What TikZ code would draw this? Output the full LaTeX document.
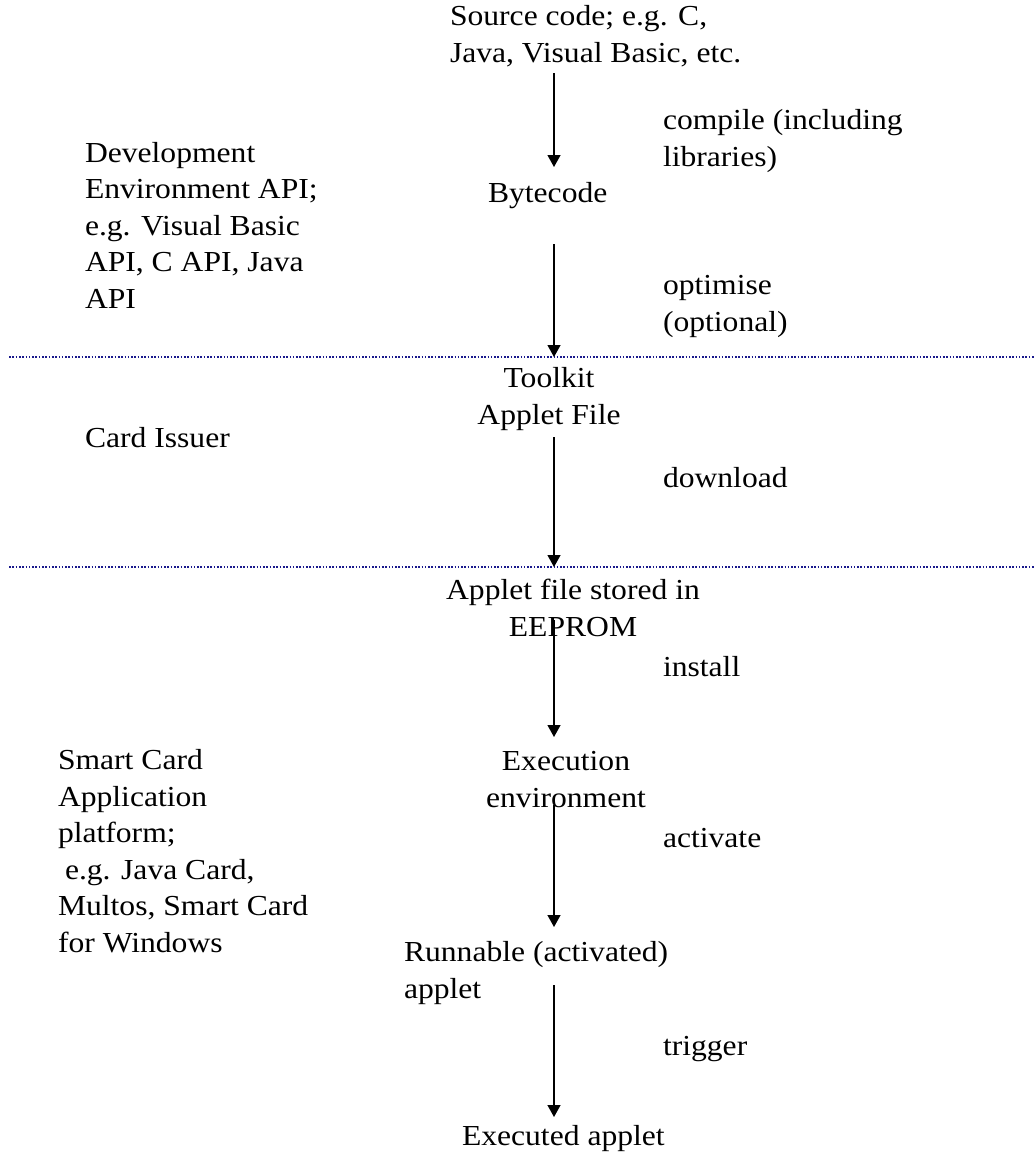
\documentclass[tikz,border=0pt]{standalone}
\usepackage{fontspec}
\setmainfont{Liberation Serif}[FakeStretch=1.09]
\usetikzlibrary{arrows.meta}
\definecolor{sepblue}{RGB}{25,25,140}
\begin{document}
\begin{tikzpicture}[x=1pt,y=-1pt,
  txt/.style={inner sep=0pt, outer sep=0pt, font=\fontsize{29}{36.5}\selectfont, align=left, anchor=base west},
  ctxt/.style={txt, align=center, anchor=base},
  flow/.style={line width=1.3pt, -{Triangle[width=13pt,length=12pt]}},
  sepline/.style={line width=1.3pt, draw=sepblue, dash pattern=on 1.6pt off 1.7pt}]
\useasboundingbox (0,0) rectangle (1035,1162);
% texts (multi-line nodes are placed by the baseline of their last line)
\node[txt] (src) at (450,62) {Source code; e.g. C,\\Java, Visual Basic, etc.};
\node[txt] (compile) at (663,166) {compile (including\\libraries)};
\node[txt] (byte) at (488,202) {Bytecode};
\node[txt] (devenv) at (85,308) {Development\\Environment API;\\e.g. Visual Basic\\API, C API, Java\\API};
\node[txt] (optimise) at (663,331) {optimise\\(optional)};
\node[ctxt] (toolkit) at (549,424) {Toolkit\\Applet File};
\node[txt] (issuer) at (85,447) {Card Issuer};
\node[txt] (download) at (663,487) {download};
\node[ctxt] (eeprom) at (573,636) {Applet file stored in\\EEPROM};
\node[txt] (install) at (663,676) {install};
\node[txt] (platform) at (58,952) {Smart Card\\Application\\platform;\\\hspace*{7pt}e.g. Java Card,\\Multos, Smart Card\\for Windows};
\node[ctxt] (exec) at (566,807) {Execution\\environment};
\node[txt] (activate) at (663,847) {activate};
\node[txt] (runnable) at (404,998) {Runnable (activated)\\applet};
\node[txt] (trigger) at (663,1055) {trigger};
\node[txt] (executed) at (462,1145) {Executed applet};
% separators
\coordinate (d1l) at (9,357);  \coordinate (d1r) at (1035,357);
\coordinate (d2l) at (9,567);  \coordinate (d2r) at (1035,567);
\draw[sepline] (d1l) -- (d1r);
\draw[sepline] (d2l) -- (d2r);
% arrows
\coordinate (a1s) at (554,73);  \coordinate (a1e) at (554,167);
\coordinate (a2s) at (554,244); \coordinate (a2e) at (554,357);
\coordinate (a3s) at (554,437); \coordinate (a3e) at (554,567);
\coordinate (a4s) at (554,620); \coordinate (a4e) at (554,737);
\coordinate (a5s) at (554,805); \coordinate (a5e) at (554,927);
\coordinate (a6s) at (554,985); \coordinate (a6e) at (554,1117);
\draw[flow] (a1s) -- (a1e);
\draw[flow] (a2s) -- (a2e);
\draw[flow] (a3s) -- (a3e);
\draw[flow] (a4s) -- (a4e);
\draw[flow] (a5s) -- (a5e);
\draw[flow] (a6s) -- (a6e);
\end{tikzpicture}
\end{document}
